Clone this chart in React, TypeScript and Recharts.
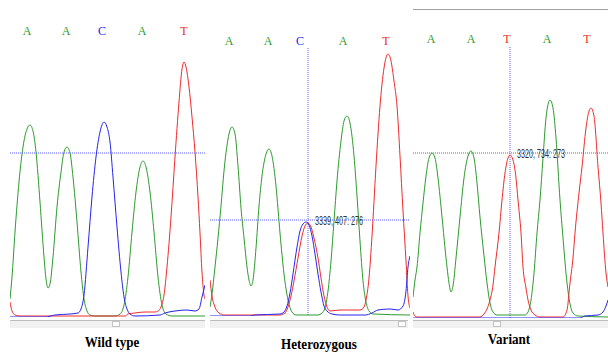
import React from "react";
import { LineChart, Line, XAxis, YAxis, ReferenceLine, ReferenceDot } from "recharts";

type Pt = [number, number];

const GREEN = "#2e9a2e";
const RED = "#f02a2a";
const BLUE = "#2424f0";
const CURSOR = "#5a5aff";

// base calls and their scan positions
const wtCalls = ["A", "A", "C", "A", "T"];
const wtCallPos = [27, 66, 102, 142, 184];
const hetCalls = ["A", "A", "C", "A", "T"];
const hetCallPos = [229, 268, 300, 343, 386];
const varCalls = ["A", "A", "T", "A", "T"];
const varCallPos = [431, 471, 507, 547, 587];

// wild type traces [scan, signal]
const wtGreen: Pt[] = [
  [10, 18], [12, 40], [15, 85], [19, 135], [23, 170], [27, 188], [30, 192], [33, 186], [36, 165],
  [40, 115], [44, 60], [46, 38], [48, 29], [50, 33], [53, 60], [57, 110], [61, 145], [64, 165],
  [67, 170], [70, 164], [73, 140], [77, 95], [81, 45], [84, 18], [87, 6], [90, 2], [95, 1],
  [115, 1], [120, 3], [124, 12], [128, 40], [132, 85], [136, 125], [140, 150], [143, 156],
  [146, 150], [150, 125], [154, 85], [158, 40], [162, 12], [166, 3], [172, 1], [205, 1],
];
const wtRed: Pt[] = [
  [10, 15], [12, 6], [15, 2], [20, 1], [90, 1], [125, 1], [128, 3], [135, 4], [145, 5], [155, 5],
  [158, 6], [161, 10], [164, 22], [167, 50], [171, 100], [175, 160], [179, 215], [182, 248],
  [184, 255], [186, 250], [189, 230], [192, 200], [195, 165], [198, 120], [200, 84], [202, 45],
  [204, 22], [205, 18],
];
const wtBlue: Pt[] = [
  [10, 0], [45, 0], [55, 2], [70, 3], [78, 4], [81, 8], [84, 22], [88, 70], [92, 120], [96, 160],
  [100, 185], [104, 195], [107, 190], [110, 175], [113, 140], [117, 90], [121, 45], [124, 20],
  [127, 8], [130, 3], [135, 1], [160, 2], [165, 4], [175, 6], [187, 7], [195, 6], [199, 8],
  [202, 20], [205, 32],
];

// heterozygous traces
const hetGreen: Pt[] = [
  [210, 9], [212, 22], [215, 49], [218, 78], [221, 110], [224, 145], [228, 177], [232, 189],
  [235, 182], [238, 150], [241, 108], [244, 78], [247, 49], [249, 36], [251, 30], [253, 36],
  [256, 68], [259, 110], [262, 140], [266, 162], [269, 167], [272, 160], [276, 130], [280, 83],
  [284, 42], [288, 16], [292, 4], [296, 1], [318, 1], [322, 3], [325, 8], [328, 25], [331, 55],
  [334, 95], [337, 135], [341, 175], [344, 195], [347, 200], [350, 193], [354, 160], [357, 120],
  [360, 75], [363, 35], [366, 14], [369, 5], [373, 2], [410, 1],
];
const hetRed: Pt[] = [
  [210, 36], [212, 20], [215, 9], [219, 3], [224, 1], [280, 1], [285, 3], [288, 9], [291, 20],
  [294, 35], [298, 58], [302, 80], [305, 90], [308, 93], [311, 89], [314, 78], [318, 58],
  [321, 38], [324, 20], [327, 9], [330, 5], [340, 6], [360, 6], [364, 9], [366, 16], [369, 38],
  [372, 80], [376, 150], [380, 210], [384, 248], [388, 262], [391, 255], [394, 235], [397, 210],
  [400, 160], [403, 105], [406, 55], [408, 20], [410, 8],
];
const hetBlue: Pt[] = [
  [210, 0], [250, 0], [255, 1], [280, 2], [284, 4], [287, 10], [290, 23], [293, 42], [297, 69],
  [300, 85], [303, 92], [306, 94], [309, 91], [312, 80], [315, 62], [318, 42], [321, 24],
  [324, 10], [327, 5], [332, 2], [340, 1], [365, 1], [372, 3], [378, 6], [390, 7], [398, 6],
  [403, 10], [406, 25], [408, 49], [410, 60],
];

// variant traces
const varGreen: Pt[] = [
  [413, 21], [415, 38], [417, 51], [420, 85], [423, 115], [426, 142], [429, 160], [432, 165],
  [435, 160], [438, 140], [442, 101], [445, 70], [447, 51], [449, 35], [451, 26], [453, 32],
  [456, 60], [460, 101], [464, 140], [468, 162], [471, 167], [474, 160], [477, 135], [480, 101],
  [484, 62], [487, 35], [490, 15], [493, 6], [497, 3], [525, 3], [528, 6], [531, 18], [534, 45],
  [537, 85], [540, 118], [543, 160], [546, 200], [550, 218], [553, 210], [556, 180], [560, 118],
  [563, 80], [567, 35], [570, 14], [573, 5], [578, 2], [608, 1],
];
const varRed: Pt[] = [
  [413, 6], [415, 2], [418, 1], [480, 1], [484, 4], [487, 9], [490, 18], [493, 33], [495, 51],
  [499, 85], [502, 118], [505, 145], [508, 160], [510, 163], [513, 158], [516, 140], [518, 118],
  [521, 85], [523, 51], [526, 30], [528, 18], [531, 8], [535, 3], [540, 1], [563, 1], [567, 8],
  [570, 35], [573, 60], [575, 85], [579, 125], [582, 151], [586, 190], [589, 207], [591, 210],
  [594, 202], [598, 151], [601, 115], [603, 85], [606, 45], [608, 31],
];
const varBlue: Pt[] = [
  [413, 0], [580, 0], [585, 2], [598, 3], [603, 6], [606, 12], [608, 18],
];

const colorOf = (b: string) => (b === "A" ? GREEN : b === "C" ? BLUE : b === "T" ? RED : "#000");
const rows = (pts: Pt[]) => pts.map(([x, y]) => ({ x, y }));

function Trace(props: any) {
  const { left, right, plotTop, baseline, calls, callPos, letterY, green, red, blue, hLine, vLine, readout } = props;

  const renderCall = (p: any) => {
    const b = calls[callPos.indexOf(p.payload.value)];
    return (
      <text x={p.x} y={letterY} textAnchor="middle" fill={colorOf(b)} fontSize={12}
        fontFamily="'Liberation Serif', serif">{b}</text>
    );
  };

  const renderReadout = (p: any) => {
    const vb = p.viewBox || { x: 0, y: 0, width: 0, height: 0 };
    return (
      <text x={vb.x + (vb.width || 0) + 6} y={vb.y + (vb.height || 0) / 2 + 4.5} fontSize={12.5}
        fill="#333" fontFamily="'Liberation Sans', sans-serif"
        textLength={48} lengthAdjust="spacingAndGlyphs">{readout}</text>
    );
  };

  return (
    <div style={{ position: "absolute", left, top: 0 }}>
      <LineChart width={right - left} height={baseline + 2} margin={{ top: 0, right: 0, bottom: 2, left: 0 }}>
        <XAxis dataKey="x" type="number" orientation="top" domain={[left, right]} ticks={callPos}
          tick={renderCall} height={plotTop} axisLine={false} tickLine={false} interval={0} allowDataOverflow />
        <YAxis type="number" domain={[0, baseline - plotTop]} hide allowDataOverflow />
        <ReferenceLine y={hLine} stroke={CURSOR} strokeDasharray="1 1" />
        {vLine != null && <ReferenceLine x={vLine} stroke={CURSOR} strokeDasharray="1 1" />}
        <Line data={rows(green)} dataKey="y" type="monotone" stroke={GREEN} strokeWidth={1} dot={false} isAnimationActive={false} />
        <Line data={rows(red)} dataKey="y" type="monotone" stroke={RED} strokeWidth={1} dot={false} isAnimationActive={false} />
        <Line data={rows(blue)} dataKey="y" type="monotone" stroke={BLUE} strokeWidth={1} dot={false} isAnimationActive={false} />
        {readout && (
          <ReferenceDot x={vLine} y={hLine} r={1} fillOpacity={0} strokeOpacity={0} label={renderReadout} />
        )}
      </LineChart>
    </div>
  );
}

function ScrollBar({ left, width, thumb }: { left: number; width: number; thumb: number }) {
  return (
    <div style={{ position: "absolute", left, top: 320, width, height: 7, background: "#f1f1f1", borderTop: "1px solid #bdbdbd" }}>
      <div style={{ position: "absolute", left: thumb - left, top: 0, width: 8, height: 6, background: "#fbfbfb", border: "1px solid #c4c4c4", boxSizing: "border-box" }} />
    </div>
  );
}

function Caption({ text, center, top }: { text: string; center: number; top: number }) {
  return (
    <div style={{ position: "absolute", left: center - 60, top, width: 120, textAlign: "center", fontFamily: "'Liberation Serif', serif", fontWeight: "bold", fontSize: 15, lineHeight: "15px", transform: "scaleX(0.87)" }}>
      {text}
    </div>
  );
}

export default function App() {
  return (
    <div style={{ position: "absolute", left: 0, top: 0, width: 608, height: 353, background: "#fff", overflow: "hidden" }}>
      <div style={{ position: "absolute", left: 413, top: 9, width: 195, borderTop: "1px solid #a0a0a0" }} />
      <Trace left={10} right={205} plotTop={45} baseline={317} letterY={35}
        calls={wtCalls} callPos={wtCallPos} green={wtGreen} red={wtRed} blue={wtBlue} hLine={164} />
      <Trace left={210} right={410} plotTop={48} baseline={316} letterY={45}
        calls={hetCalls} callPos={hetCallPos} green={hetGreen} red={hetRed} blue={hetBlue}
        hLine={96} vLine={308} readout="3339, 407: 276" />
      <Trace left={413} right={608} plotTop={47} baseline={318} letterY={43}
        calls={varCalls} callPos={varCallPos} green={varGreen} red={varRed} blue={varBlue}
        hLine={165} vLine={510} readout="3320, 734: 273" />
      <ScrollBar left={10} width={195} thumb={112} />
      <ScrollBar left={210} width={198} thumb={398} />
      <ScrollBar left={413} width={195} thumb={493} />
      <Caption text="Wild type" center={112} top={335} />
      <Caption text="Heterozygous" center={319} top={337} />
      <Caption text="Variant" center={509} top={332} />
    </div>
  );
}
